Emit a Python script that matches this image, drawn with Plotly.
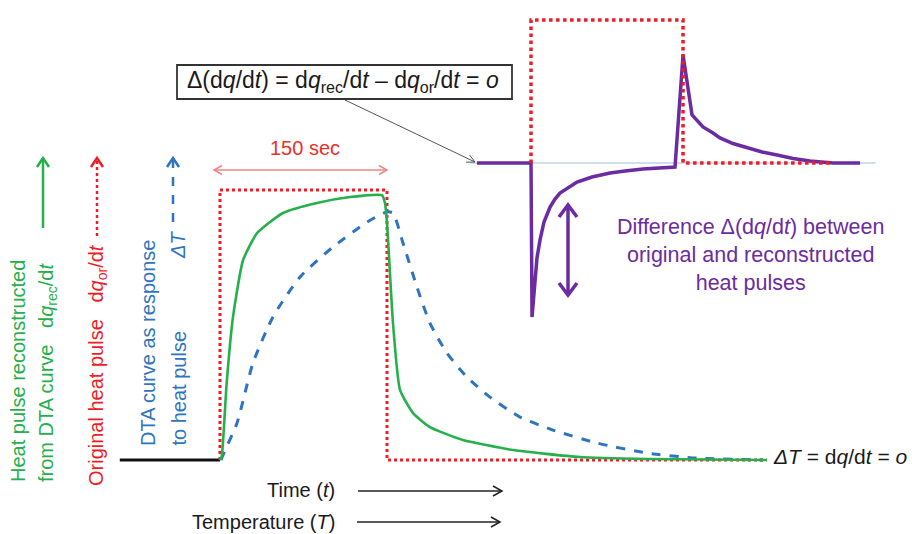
import plotly.graph_objects as go
import math

W, H = 912, 534

# ---------------- data (main panel: time in s, normalised signal) ----------------
base_t = [-90, 0]
base_v = [0, 0]

pulse_t = [0, 0, 150, 150, 491]
pulse_v = [0, 1, 1, 0, 0]

green_t = [0, 1.5, 6.0, 11.7, 20.7, 33.2, 56.6, 87.1, 116.8, 145.5, 148.2, 150.0,
           155.4, 161.7, 173.4, 188.6, 218.3, 263.2, 323.4, 383.5, 491.3]
green_v = [0, 0.012, 0.285, 0.53, 0.74, 0.84, 0.915, 0.952, 0.974, 0.981, 0.952, 0.88,
           0.507, 0.26, 0.174, 0.122, 0.074, 0.037, 0.011, 0.004, 0.0]

blue_t = [1.0, 2.7, 15.3, 29.6, 47.6, 71.9, 101.5, 132.0, 150.0, 155.4, 164.4, 176.9,
          188.6, 203.9, 221.9, 242.5, 269.5, 299.1, 338.6, 383.5, 428.4, 487.7]
blue_v = [0.0, 0.019, 0.137, 0.359, 0.530, 0.678, 0.789, 0.881, 0.919, 0.915, 0.804, 0.641,
          0.507, 0.396, 0.307, 0.233, 0.159, 0.111, 0.063, 0.026, 0.007, 0.0]

# ---------------- data (inset: difference of heat pulses) ----------------
zero_t = [-60, 340]
zero_v = [0, 0]

inset_pulse_t = [0, 0, 150, 150, 298]
inset_pulse_v = [0, 1, 1, 0, 0]

diff_t = [-53.3, 0, 1.0, 3.9, 5.9, 8.9, 12.8, 18.8, 23.7, 28.6, 45.4, 60.2, 78.0, 92.8,
          110.5, 142.1, 150.0, 158.9, 165.8, 169.7, 179.6, 186.5, 199.3, 213.2, 228.0,
          242.8, 258.6, 275.3, 287.2, 298.0, 324.7]
diff_v = [0, 0, -1.077, -0.818, -0.664, -0.538, -0.413, -0.308, -0.252, -0.210, -0.133,
          -0.098, -0.070, -0.056, -0.042, -0.028, 0.755, 0.336, 0.287, 0.252, 0.210, 0.175,
          0.136, 0.105, 0.077, 0.056, 0.031, 0.014, 0.005, 0.0, 0.0]

GREEN = "#25b04b"
RED = "#ee1c24"
BLUE = "#2f74c0"
PURPLE = "#6b2ca3"
FONT = "Liberation Sans, Arial, sans-serif"

fig = go.Figure()

fig.add_trace(go.Scatter(x=base_t, y=base_v, mode="lines",
                         line=dict(color="#111111", width=3), xaxis="x", yaxis="y"))
fig.add_trace(go.Scatter(x=pulse_t, y=pulse_v, mode="lines",
                         line=dict(color=RED, width=3, dash="dot"), xaxis="x", yaxis="y"))
fig.add_trace(go.Scatter(x=blue_t, y=blue_v, mode="lines",
                         line=dict(color=BLUE, width=3, dash="dash", shape="spline", smoothing=0.6),
                         xaxis="x", yaxis="y"))
fig.add_trace(go.Scatter(x=green_t, y=green_v, mode="lines",
                         line=dict(color=GREEN, width=2.6, shape="spline", smoothing=0.5),
                         xaxis="x", yaxis="y"))

fig.add_trace(go.Scatter(x=zero_t, y=zero_v, mode="lines",
                         line=dict(color="#9dbfe0", width=1.2), xaxis="x2", yaxis="y2"))
fig.add_trace(go.Scatter(x=diff_t, y=diff_v, mode="lines",
                         line=dict(color=PURPLE, width=3.5),
                         xaxis="x2", yaxis="y2"))
fig.add_trace(go.Scatter(x=inset_pulse_t, y=inset_pulse_v, mode="lines",
                         line=dict(color=RED, width=3.5, dash="dot"), xaxis="x2", yaxis="y2"))


def P(x, y):
    return x / W, 1 - y / H


shapes = []


def chevron(xt, yt, x0, y0, color, width, hw, hl):
    dx, dy = xt - x0, yt - y0
    L = math.hypot(dx, dy)
    ux, uy = dx / L, dy / L
    nx, ny = -uy, ux
    a = P(xt - hl * ux + hw * nx, yt - hl * uy + hw * ny)
    b = P(xt, yt)
    c = P(xt - hl * ux - hw * nx, yt - hl * uy - hw * ny)
    shapes.append(dict(type="path", xref="paper", yref="paper",
                       path=f"M{a[0]},{a[1]} L{b[0]},{b[1]} L{c[0]},{c[1]}",
                       line=dict(color=color, width=width)))


def arrow(x0, y0, x1, y1, color, width, dash="solid", hw=6, hl=10, both=False, hwidth=None):
    p0, p1 = P(x0, y0), P(x1, y1)
    shapes.append(dict(type="line", xref="paper", yref="paper",
                       x0=p0[0], y0=p0[1], x1=p1[0], y1=p1[1],
                       line=dict(color=color, width=width, dash=dash)))
    hwid = hwidth if hwidth else width
    chevron(x1, y1, x0, y0, color, hwid, hw, hl)
    if both:
        chevron(x0, y0, x1, y1, color, hwid, hw, hl)


# legend-like vertical arrows on the left
arrow(43, 228, 43, 158, GREEN, 2.5, hw=6, hl=9)
arrow(97, 236, 97, 158, RED, 2.5, dash="dot", hw=6, hl=9)
arrow(173, 222, 173, 158, BLUE, 2.5, dash="dash", hw=6, hl=9)

# 150 sec double arrow
arrow(214, 170, 387, 170, "#f08585", 1.5, hw=4.5, hl=8, both=True)

# purple double arrow
arrow(568, 205, 568, 295, PURPLE, 3.5, hw=9, hl=12, both=True)

# Time / Temperature arrows
arrow(358, 491, 502, 491, "#222222", 1.5, hw=5, hl=9)
arrow(357, 522, 500, 522, "#222222", 1.5, hw=5, hl=9)

# connector from box to inset
arrow(345, 100, 475, 162, "#555555", 1, hw=4, hl=8)

# equation box
b0, b1 = P(177, 65), P(512, 99)
shapes.append(dict(type="rect", xref="paper", yref="paper",
                   x0=b0[0], y0=b1[1], x1=b1[0], y1=b0[1],
                   line=dict(color="#333333", width=1.8), fillcolor="white"))

annotations = []


def text(x, y, s, color, size=20, xanchor="center", yanchor="middle", angle=0, align="center"):
    px, py = P(x, y)
    annotations.append(dict(x=px, y=py, xref="paper", yref="paper", text=s,
                            showarrow=False, xanchor=xanchor, yanchor=yanchor,
                            textangle=angle, align=align,
                            font=dict(family=FONT, size=size, color=color)))


text(343, 81, "Δ(d<i>q</i>/d<i>t</i>) = d<i>q</i><sub>rec</sub>/d<i>t</i> – d<i>q</i><sub>or</sub>/d<i>t</i> = <i>o</i>",
     "#1a1a1a", size=23)
text(305, 148, "150 sec", "#e8312a", size=20)

# rotated left labels
text(18, 484, "Heat pulse reconstructed", GREEN, angle=-90, yanchor="bottom")
text(47, 484, "from DTA curve   d<i>q</i><sub>rec</sub>/d<i>t</i>", GREEN, angle=-90, yanchor="bottom")
text(97, 488, "Original heat pulse   d<i>q</i><sub>or</sub>/d<i>t</i>", RED, angle=-90, yanchor="bottom")
text(148, 448, "DTA curve as response", BLUE, angle=-90, yanchor="bottom")
text(178, 448, "to heat pulse", BLUE, angle=-90, yanchor="bottom")
text(178, 245, "<i>ΔT</i>", BLUE, angle=-90)

text(750, 255, "Difference Δ(d<i>q</i>/d<i>t</i>) between<br>original and reconstructed<br>heat pulses",
     PURPLE, size=21.5)

text(771, 456, "<i>ΔT</i> = d<i>q</i>/d<i>t</i> = <i>o</i>", "#1a1a1a", size=21, xanchor="left")
text(337, 490, "Time (<i>t</i>)", "#1a1a1a", size=20, xanchor="right")
text(337, 522, "Temperature (<i>T</i>)", "#1a1a1a", size=20, xanchor="right")

fig.update_layout(
    width=W, height=H,
    margin=dict(l=0, r=0, t=0, b=0),
    paper_bgcolor="white", plot_bgcolor="rgba(0,0,0,0)",
    showlegend=False,
    xaxis=dict(domain=[0, 1], range=[-197.6, 621.6], visible=False, fixedrange=True),
    yaxis=dict(domain=[0, 1], range=[-0.274, 1.704], visible=False, fixedrange=True),
    xaxis2=dict(domain=[460 / W, 900 / W], range=[-70.07, 364.1], visible=False,
                anchor="y2", fixedrange=True),
    yaxis2=dict(domain=[1 - 340 / H, 1], range=[-1.238, 1.140], visible=False,
                anchor="x2", fixedrange=True),
    shapes=shapes,
    annotations=annotations,
    font=dict(family=FONT),
)

fig.write_html("out.html", config={"displayModeBar": False, "staticPlot": True},
               post_script="document.body.style.margin='0';")
